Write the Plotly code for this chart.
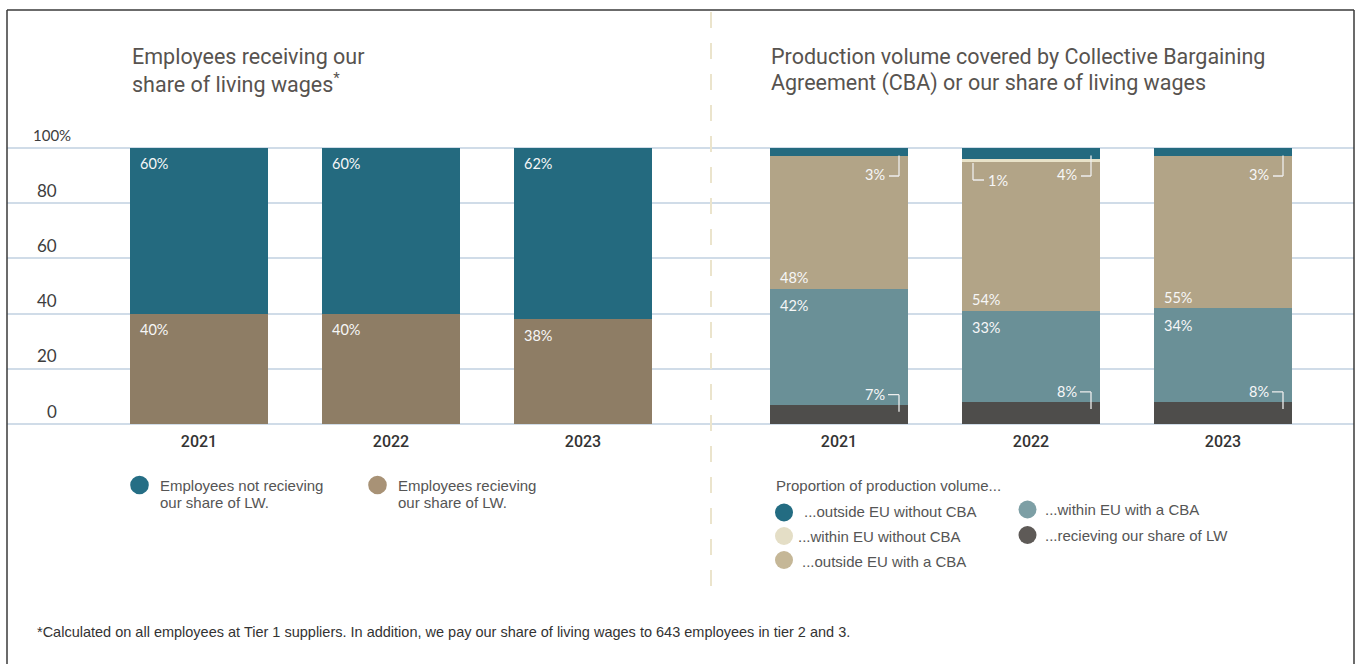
import plotly.graph_objects as go

# ---------------- data ----------------
years = ["2021", "2022", "2023"]

# left chart: employees
emp_lw = [40, 40, 38]        # Employees recieving our share of LW
emp_not_lw = [60, 60, 62]    # Employees not recieving our share of LW

# right chart: production volume (bottom -> top)
prod_lw = [7, 8, 8]                 # ...recieving our share of LW
prod_within_cba = [42, 33, 34]      # ...within EU with a CBA
prod_outside_cba = [48, 54, 55]     # ...outside EU with a CBA
prod_within_no_cba = [0, 1, 0]      # ...within EU without CBA
prod_outside_no_cba = [3, 4, 3]     # ...outside EU without CBA

y_tick_vals = [0, 20, 40, 60, 80, 100]
y_tick_text = ["0", "20", "40", "60", "80", "100%"]

# ---------------- style ----------------
W, H = 1356, 664
C_TEAL = "#246a7f"
C_BROWN = "#8e7d65"
C_CREAM = "#e8e2c8"
C_BEIGE = "#b2a487"
C_LTEAL = "#6a9097"
C_DARK = "#4e4d4b"
GRID = "#d0dce8"
TITLE_C = "#57534f"
TXT_C = "#555555"

def px(x):
    return x / W

def py(y):
    return 1 - y / H

# layout geometry (pixel positions)
Y0_PX, Y100_PX = 424, 148
PX_PER_PCT = (Y0_PX - Y100_PX) / 100
Y_PAD = 0.6   # small range padding so the 0 and 100 gridlines are drawn
CAT_PX = 192.0
BAR_W = 138 / CAT_PX
HB = BAR_W / 2
XU = 1 / CAT_PX                      # category units per pixel
YU = 1 / PX_PER_PCT                  # % per pixel

fig = go.Figure()

# left stacked bars
fig.add_bar(x=years, y=emp_lw, marker=dict(color=C_BROWN, line=dict(width=0)),
            xaxis="x", yaxis="y", name="Employees recieving our share of LW.")
fig.add_bar(x=years, y=emp_not_lw, marker=dict(color=C_TEAL, line=dict(width=0)),
            xaxis="x", yaxis="y", name="Employees not recieving our share of LW.")

# right stacked bars
for vals, col, nm in [
    (prod_lw, C_DARK, "...recieving our share of LW"),
    (prod_within_cba, C_LTEAL, "...within EU with a CBA"),
    (prod_outside_cba, C_BEIGE, "...outside EU with a CBA"),
    (prod_within_no_cba, C_CREAM, "...within EU without CBA"),
    (prod_outside_no_cba, C_TEAL, "...outside EU without CBA"),
]:
    fig.add_bar(x=years, y=vals, marker=dict(color=col, line=dict(width=0)),
                xaxis="x2", yaxis="y2", name=nm)

annotations = []
shapes = []

LBL_FONT = dict(family="Lato, sans-serif", size=14.5, color="#f7f7f7")

def bar_label(text, xref, yref, x, y, xanchor, xshift, yshift):
    annotations.append(dict(text=text, xref=xref, yref=yref, x=x, y=y,
                            xanchor=xanchor, yanchor="middle", xshift=xshift,
                            yshift=yshift, showarrow=False, font=LBL_FONT))

# left labels
for i in range(len(years)):
    left = i - HB
    bar_label(f"{emp_not_lw[i]}%", "x", "y", left, emp_lw[i] + emp_not_lw[i], "left", 8, -15)
    bar_label(f"{emp_lw[i]}%", "x", "y", left, emp_lw[i], "left", 8, -16)

# right labels
LINE = dict(color="#eeeeee", width=1.3)
for i in range(len(years)):
    left = i - HB
    right = i + HB
    b1 = prod_lw[i] + prod_within_cba[i]
    total = b1 + prod_outside_cba[i] + prod_within_no_cba[i] + prod_outside_no_cba[i]
    bar_label(f"{prod_within_cba[i]}%", "x2", "y2", left, b1, "left", 8, -17)
    bar_label(f"{prod_outside_cba[i]}%", "x2", "y2", left, b1, "left", 8, 11)
    # LW bracket
    T = prod_lw[i]
    bar_label(f"{prod_lw[i]}%", "x2", "y2", right, T, "right", -21, 10)
    shapes.append(dict(type="line", xref="x2", yref="y2",
                       x0=right - 20 * XU, x1=right - 9 * XU,
                       y0=T + 10 * YU, y1=T + 10 * YU, line=LINE))
    shapes.append(dict(type="line", xref="x2", yref="y2",
                       x0=right - 9 * XU, x1=right - 9 * XU,
                       y0=T + 10 * YU, y1=T - 7 * YU, line=LINE))
    # top bracket
    if prod_outside_no_cba[i] > 0:
        bar_label(f"{prod_outside_no_cba[i]}%", "x2", "y2", right, total, "right", -21, -26)
        shapes.append(dict(type="line", xref="x2", yref="y2",
                           x0=right - 19 * XU, x1=right - 9 * XU,
                           y0=total - 28 * YU, y1=total - 28 * YU, line=LINE))
        shapes.append(dict(type="line", xref="x2", yref="y2",
                           x0=right - 9 * XU, x1=right - 9 * XU,
                           y0=total - 28 * YU, y1=total - 7.5 * YU, line=LINE))
    # cream bracket
    if prod_within_no_cba[i] > 0:
        bar_label(f"{prod_within_no_cba[i]}%", "x2", "y2", left, total, "left", 24, -32)
        shapes.append(dict(type="line", xref="x2", yref="y2",
                           x0=left + 11 * XU, x1=left + 11 * XU,
                           y0=total - 15 * YU, y1=total - 32 * YU, line=LINE))
        shapes.append(dict(type="line", xref="x2", yref="y2",
                           x0=left + 11 * XU, x1=left + 22 * XU,
                           y0=total - 32 * YU, y1=total - 32 * YU, line=LINE))

# y tick labels (above gridlines)
for v, t in zip(y_tick_vals, y_tick_text):
    if t.endswith("%"):
        annotations.append(dict(text=t, xref="paper", yref="y", x=px(73), y=v,
                                xanchor="right", yanchor="middle", yshift=13,
                                showarrow=False,
                                font=dict(family="Lato, sans-serif", size=15, color="#3d3d3d")))
    else:
        annotations.append(dict(text=t, xref="paper", yref="y", x=px(59), y=v,
                                xanchor="right", yanchor="middle", yshift=13,
                                showarrow=False,
                                font=dict(family="Lato, sans-serif", size=17, color="#3d3d3d")))

# titles (one annotation per line)
TITLE_FONT = dict(family="Roboto, sans-serif", size=21.5, color=TITLE_C)

def title_line(text, x, y):
    annotations.append(dict(text=text, xref="paper", yref="paper", x=px(x), y=py(y),
                            xanchor="left", yanchor="middle", align="left",
                            showarrow=False, font=TITLE_FONT))

title_line("Employees receiving our", 130, 57)
title_line("share of living wages<sup>*</sup>", 130, 83)
title_line("Production volume covered by Collective Bargaining", 769, 57)
title_line("Agreement (CBA) or our share of living wages", 769, 83)

# legends (custom)
LEG_FONT = dict(family="Liberation Sans, Arial, sans-serif", size=15, color=TXT_C)

def leg_text(text, x, y):
    annotations.append(dict(text=text, xref="paper", yref="paper", x=px(x), y=py(y),
                            xanchor="left", yanchor="middle", showarrow=False,
                            font=LEG_FONT))

def leg_dot(cx, cy, r, col):
    shapes.append(dict(type="circle", xref="paper", yref="paper",
                       x0=px(cx - r), x1=px(cx + r), y0=py(cy + r), y1=py(cy - r),
                       fillcolor=col, line=dict(width=0)))

leg_dot(139.5, 485, 9.3, "#256e85")
leg_text("Employees not recieving", 158, 485)
leg_text("our share of LW.", 158, 502)
leg_dot(377.5, 485, 9.3, "#a89276")
leg_text("Employees recieving", 396, 485)
leg_text("our share of LW.", 396, 502)

leg_text("Proportion of production volume...", 774, 485)
leg_dot(784, 512.5, 9, "#236c82")
leg_text("...outside EU without CBA", 802, 511)
leg_dot(784, 536, 9, "#e4dec6")
leg_text("...within EU without CBA", 796, 536)
leg_dot(784, 560, 9, "#c5b797")
leg_text("...outside EU with a CBA", 800, 561)
leg_dot(1027.5, 509.5, 9, "#7d9fa5")
leg_text("...within EU with a CBA", 1043, 509)
leg_dot(1027.5, 535, 9, "#5e5a57")
leg_text("...recieving our share of LW", 1043, 535)

# footnote
annotations.append(dict(text="*Calculated on all employees at Tier 1 suppliers. In addition, we pay our share of living wages to 643 employees in tier 2 and 3.",
                        xref="paper", yref="paper", x=px(35), y=py(632), xanchor="left",
                        yanchor="middle", showarrow=False,
                        font=dict(family="Liberation Sans, Arial, sans-serif", size=14.5, color="#333333")))

# divider
shapes.append(dict(type="line", xref="paper", yref="paper", x0=px(711), x1=px(711),
                   y0=py(12), y1=py(592), line=dict(color="#ebe4cc", width=2, dash="16px,15px")))
# frame
FRAME = dict(color="#3a3a3a", width=1.5)
shapes.append(dict(type="line", xref="paper", yref="paper", x0=px(7), x1=px(1354),
                   y0=py(10), y1=py(10), line=FRAME))
shapes.append(dict(type="line", xref="paper", yref="paper", x0=px(7), x1=px(7),
                   y0=py(10), y1=0, line=FRAME))
shapes.append(dict(type="line", xref="paper", yref="paper", x0=px(1354), x1=px(1354),
                   y0=py(10), y1=0, line=FRAME))

XTICK_FONT = dict(family="Roboto, sans-serif", size=16, color="#333333", weight=500)
y_dom = [py(Y0_PX + Y_PAD * PX_PER_PCT), py(Y100_PX - Y_PAD * PX_PER_PCT)]
axis_common_y = dict(range=[-Y_PAD, 100 + Y_PAD], domain=y_dom, tickvals=y_tick_vals,
                     showticklabels=False, showgrid=True, gridcolor=GRID, gridwidth=1.5,
                     zeroline=False, showline=False, ticks="", fixedrange=True)

fig.update_layout(
    width=W, height=H,
    margin=dict(l=0, r=0, t=0, b=0),
    paper_bgcolor="white", plot_bgcolor="white",
    barmode="stack", bargap=1 - BAR_W,
    showlegend=False,
    xaxis=dict(domain=[px(7), px(711)], range=[-(199 - 7) / CAT_PX, (711 - 199) / CAT_PX],
               type="category", anchor="y", showgrid=False, zeroline=False, showline=False,
               ticks="", tickfont=XTICK_FONT, ticklabelstandoff=4),
    xaxis2=dict(domain=[px(711), px(1354)], range=[-(839 - 711) / CAT_PX, (1354 - 839) / CAT_PX],
                type="category", anchor="y2", showgrid=False, zeroline=False, showline=False,
                ticks="", tickfont=XTICK_FONT, ticklabelstandoff=4),
    yaxis=dict(anchor="x", **axis_common_y),
    yaxis2=dict(anchor="x2", **axis_common_y),
    annotations=annotations,
    shapes=shapes,
)

fig.write_html("out.html")
